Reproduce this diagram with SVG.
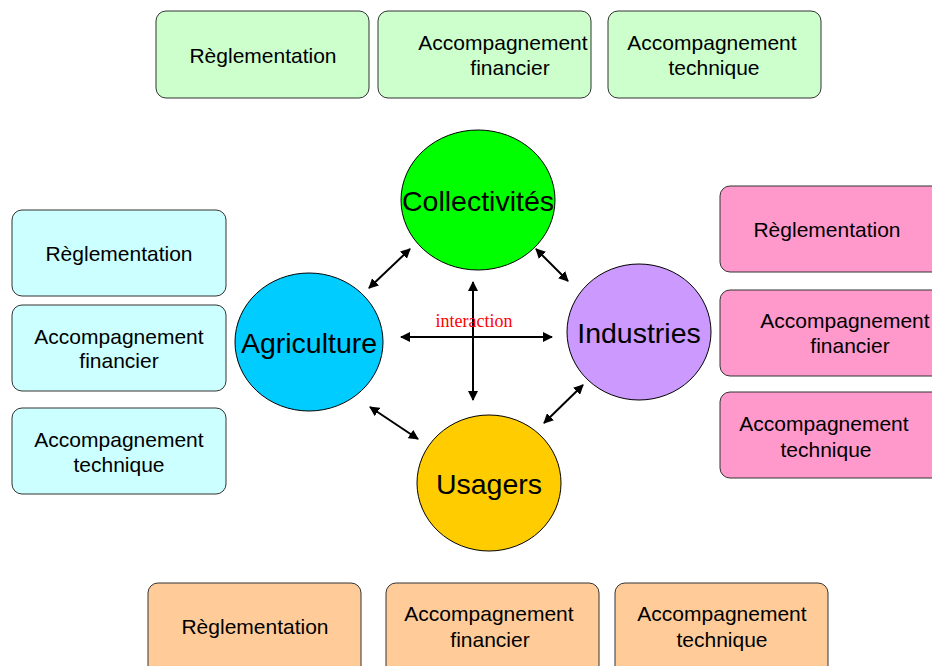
<svg xmlns="http://www.w3.org/2000/svg" width="932" height="666" viewBox="0 0 932 666">
<defs>
<marker id="ah" viewBox="0 0 10 10" refX="9" refY="5" markerWidth="5" markerHeight="5" orient="auto-start-reverse" markerUnits="strokeWidth">
<path d="M0,0 L10,5 L0,10 z" fill="#000"/>
</marker>
<style>
.box{stroke:#333;stroke-width:1}
.g{fill:#CCFFCC}.c{fill:#CCFFFF}.p{fill:#FF99CC}.o{fill:#FFCC99}
.t{font-family:"Liberation Sans",Arial,sans-serif;font-size:21px;fill:#000;text-anchor:middle}
.big{font-family:"Liberation Sans",Arial,sans-serif;font-size:28.5px;fill:#000;text-anchor:middle}
.el{stroke:#000;stroke-width:1}
.ar{stroke:#000;stroke-width:2;fill:none;marker-start:url(#ah);marker-end:url(#ah)}
</style>
</defs>
<rect width="932" height="666" fill="#fff"/>

<g id="top-reg"><rect class="box g" x="156" y="11" width="213" height="87" rx="10"/><text class="t" x="263" y="63">Règlementation</text></g>
<g id="top-fin"><rect class="box g" x="378" y="11" width="213" height="87" rx="10"/><text class="t" x="503" y="50">Accompagnement</text><text class="t" x="510" y="75">financier</text></g>
<g id="top-tech"><rect class="box g" x="608" y="11" width="213" height="87" rx="10"/><text class="t" x="712" y="50">Accompagnement</text><text class="t" x="714" y="75">technique</text></g>

<g id="left-reg"><rect class="box c" x="12" y="210" width="214" height="86" rx="10"/><text class="t" x="119" y="261">Règlementation</text></g>
<g id="left-fin"><rect class="box c" x="12" y="305" width="214" height="86" rx="10"/><text class="t" x="119" y="344">Accompagnement</text><text class="t" x="119" y="368">financier</text></g>
<g id="left-tech"><rect class="box c" x="12" y="408" width="214" height="86" rx="10"/><text class="t" x="119" y="447">Accompagnement</text><text class="t" x="119" y="472">technique</text></g>

<g id="right-reg"><rect class="box p" x="720" y="186" width="222" height="86" rx="10"/><text class="t" x="827" y="237">Règlementation</text></g>
<g id="right-fin"><rect class="box p" x="720" y="290" width="222" height="86" rx="10"/><text class="t" x="845" y="328">Accompagnement</text><text class="t" x="850" y="353">financier</text></g>
<g id="right-tech"><rect class="box p" x="720" y="392" width="222" height="86" rx="10"/><text class="t" x="824" y="431">Accompagnement</text><text class="t" x="826" y="457">technique</text></g>

<g id="bot-reg"><rect class="box o" x="148" y="583" width="213" height="95" rx="10"/><text class="t" x="255" y="634">Règlementation</text></g>
<g id="bot-fin"><rect class="box o" x="386" y="583" width="213" height="95" rx="10"/><text class="t" x="489" y="621">Accompagnement</text><text class="t" x="490" y="647">financier</text></g>
<g id="bot-tech"><rect class="box o" x="615" y="583" width="213" height="95" rx="10"/><text class="t" x="722" y="621">Accompagnement</text><text class="t" x="722" y="647">technique</text></g>

<g id="collectivites"><ellipse class="el" cx="478" cy="200" rx="77" ry="70" fill="#00FF00"/><text class="big" x="478" y="211">Collectivités</text></g>
<g id="agriculture"><ellipse class="el" cx="309" cy="342" rx="74" ry="69" fill="#00CCFF"/><text class="big" x="309" y="353">Agriculture</text></g>
<g id="industries"><ellipse class="el" cx="639" cy="332" rx="72" ry="68" fill="#CC99FF"/><text class="big" x="639" y="343">Industries</text></g>
<g id="usagers"><ellipse class="el" cx="489" cy="483" rx="72" ry="68" fill="#FFCC00"/><text class="big" x="489" y="494">Usagers</text></g>

<g id="connectors">
<line class="ar" x1="369" y1="288" x2="410" y2="249"/>
<line class="ar" x1="536" y1="249" x2="568" y2="281"/>
<line class="ar" x1="583" y1="385" x2="544" y2="423"/>
<line class="ar" x1="370" y1="407" x2="418" y2="439"/>
<line class="ar" x1="401" y1="337" x2="552" y2="337"/>
<line class="ar" x1="473" y1="282" x2="473" y2="400"/>
<text x="474" y="327" font-family="'Liberation Serif','Times New Roman',serif" font-size="18" fill="#FF0000" text-anchor="middle">interaction</text>
</g>
</svg>
